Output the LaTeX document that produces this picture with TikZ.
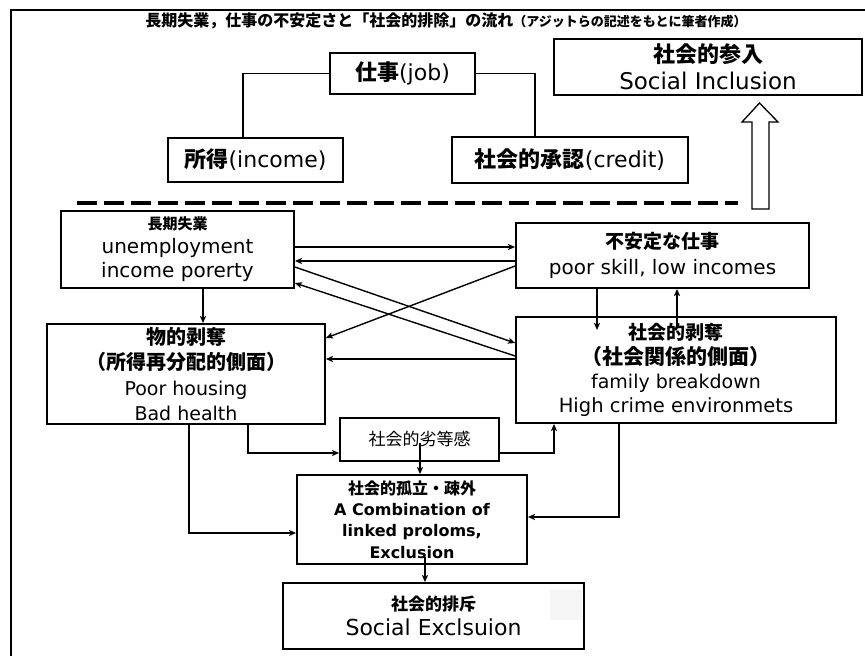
\documentclass[tikz,border=0pt]{standalone}
\usepackage{fontspec}
\setmainfont{DejaVu Sans}
\newfontfamily\jpf{Noto Sans CJK JP}
\usetikzlibrary{arrows.meta}
\newcommand\jpz[2]{{\jpf\fontsize{#1}{#1}\selectfont #2}}
\newcommand\jpzb[2]{{\jpf\bfseries\fontsize{#1}{#1}\selectfont #2}}
\newcommand\laz[2]{{\fontsize{#1}{#1}\selectfont #2}}
\newcommand\lazb[2]{{\bfseries\fontsize{#1}{#1}\selectfont #2}}
\tikzset{
  box/.style={draw, line width=1.8pt, inner sep=0pt, align=center},
  arr/.style={line width=1.4pt, -{Stealth[length=7pt,width=6pt,inset=1.5pt]}},
  link/.style={line width=1.2pt},
  sepline/.style={line width=4pt, dash pattern=on 20pt off 7pt},
}
\begin{document}
\begin{tikzpicture}[x=1pt,y=-1pt]
\useasboundingbox (0,0) rectangle (865,656);
% frame
\draw[line width=1.8pt] (11,656) -- (11,10) -- (865,10);
% title
\node[inner sep=0pt] (title) at (446,21) {\jpzb{16}{長期失業，仕事の不安定さと「社会的排除」の流れ}\jpzb{13}{（アジットらの記述をもとに筆者作成）}};
% top part
\node[box, minimum width=308, minimum height=56, font=\fontsize{22}{27}\selectfont] (incl) at (708,67) {\jpzb{22}{社会的参入}\\\laz{23}{Social Inclusion}};
\node[box, minimum width=145, minimum height=41] (job) at (402.5,73.5) {\jpzb{22}{仕事}\laz{22}{(job)}};
\node[box, minimum width=175, minimum height=44] (inc) at (255.5,160) {\jpzb{22}{所得}\laz{22}{(income)}};
\node[box, minimum width=236, minimum height=46] (cred) at (570,160) {\jpzb{22}{社会的承認}\laz{22}{(credit)}};
\draw[link] (job.west) -| ([xshift=-12.5pt]inc.north);
\draw[link] (job.east) -| ([xshift=-35pt]cred.north);
% hollow arrow
\draw[line width=1.3pt, fill=white] (752,209) -- (752,122) -- (742,122) -- (759.5,103) -- (778,122) -- (769,122) -- (769,209) -- cycle;
% separator
\coordinate (sepL) at (77,203);
\coordinate (sepR) at (738,203);
\draw[sepline] (sepL) -- (sepR);
% lower boxes
\node[box, minimum width=233, minimum height=77, font=\fontsize{20}{24}\selectfont] (unemp) at (177.5,249.5) {\jpzb{15}{長期失業}\\\laz{20}{unemployment}\\\laz{20}{income porerty}};
\node[box, minimum width=293, minimum height=65, font=\fontsize{20}{26}\selectfont] (insec) at (662.5,255.5) {\jpzb{19}{不安定な仕事}\\\laz{20}{poor skill, low incomes}};
\node[box, minimum width=278, minimum height=100, font=\fontsize{19}{25.3}\selectfont] (matd) at (186,374) {\jpzb{20}{物的剥奪}\\\jpzb{20}{（所得再分配的側面）}\\\laz{19}{Poor housing}\\\laz{19}{Bad health}};
\node[box, minimum width=320, minimum height=106, font=\fontsize{19}{24.3}\selectfont] (socd) at (676,370) {\jpzb{19}{社会的剥奪}\\\jpzb{21}{（社会関係的側面）}\\\laz{19}{family breakdown}\\\laz{19.5}{High crime environmets}};
\node[box, minimum width=159, minimum height=43] (infer) at (419.5,439.5) {\jpz{17}{社会的劣等感}};
\node[box, minimum width=230, minimum height=89, font=\fontsize{16}{21.3}\selectfont] (isol) at (412,519.5) {\jpzb{16}{社会的孤立・疎外}\\\lazb{16}{A Combination of}\\\lazb{16}{linked proloms,}\\\lazb{16}{Exclusion}};
\node[box, minimum width=301, minimum height=66, font=\fontsize{22}{25}\selectfont] (excl) at (433.5,616) {\jpzb{17}{社会的排斥}\\\laz{22}{Social Exclsuion}};
\fill[gray!8] (550,590) rectangle (582,620);
% connectors
\draw[arr] (unemp.east |- 0,247) -- (insec.west |- 0,247);
\draw[arr] (insec.west |- 0,261) -- (unemp.east |- 0,261);
\draw[arr] (unemp.south -| 203,0) -- (matd.north -| 203,0);
\coordinate (d1) at (597,330);
\draw[arr] (insec.south -| d1) -- (d1);
\coordinate (s1) at (677,328);
\draw[arr] (s1) -- (insec.south -| s1);
\draw[arr] (unemp.east |- 0,267) -- (socd.west |- 0,343);
\draw[arr] (socd.west |- 0,356) -- (unemp.east |- 0,283);
\draw[arr] (insec.west |- 0,266) -- (matd.east |- 0,338);
\draw[arr] (socd.west |- 0,359) -- (matd.east |- 0,359);
\draw[arr] (matd.south -| 248,0) |- (infer.west |- 0,453);
\draw[arr] (infer.east |- 0,453) -| (socd.south -| 554,0);
\coordinate (f1) at (420,443);
\draw[arr] (f1) -- (isol.north -| f1);
\draw[arr] (matd.south -| 189,0) |- (isol.west |- 0,533);
\draw[arr] (socd.south -| 619,0) |- (isol.east |- 0,517);
\coordinate (i1) at (425,557);
\draw[arr] (i1) -- (excl.north -| i1);
\end{tikzpicture}
\end{document}
